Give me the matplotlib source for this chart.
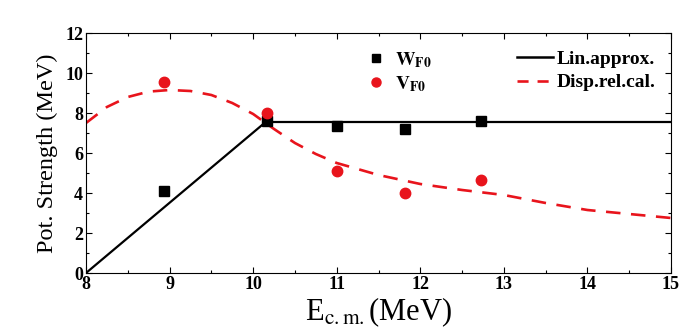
import matplotlib
matplotlib.use("Agg")
import matplotlib.pyplot as plt
from matplotlib.lines import Line2D
from matplotlib.ticker import MultipleLocator

E_exp = [8.93, 10.17, 11.0, 11.82, 12.73]
W_F0 = [4.1, 7.6, 7.35, 7.2, 7.6]
V_F0 = [9.55, 8.0, 5.1, 4.0, 4.65]

lin_E = [8.0, 10.15, 15.0]
lin_W = [0.0, 7.55, 7.55]

disp_E = [8.0, 8.25, 8.5, 8.75, 9.0, 9.25, 9.5, 9.75, 10.0, 10.25, 10.5, 10.75, 11.0,
          11.5, 12.0, 12.5, 13.0, 13.5, 14.0, 14.5, 15.0]
disp_V = [7.5, 8.3, 8.8, 9.07, 9.15, 9.1, 8.9, 8.5, 7.95, 7.2, 6.5, 5.95, 5.5,
          4.9, 4.45, 4.15, 3.9, 3.5, 3.15, 2.95, 2.75]

plt.rcParams['font.family'] = ['Liberation Serif', 'DejaVu Serif']
plt.rcParams['mathtext.fontset'] = 'stix'

RED = '#e8141c'
fig = plt.figure(figsize=(6.95, 3.35), dpi=100)
ax = fig.add_axes([86/695, 1-273/335, (671-86)/695, (273-33)/335])

ax.plot(lin_E, lin_W, color='black', lw=1.6)
ax.plot(disp_E, disp_V, color=RED, lw=1.9, dashes=(5.5, 4.0))
ax.plot(E_exp, W_F0, 's', color='black', ms=6.8)
ax.plot(E_exp, V_F0, 'o', color=RED, ms=7.5)

ax.set_xlim(8, 15)
ax.set_ylim(0, 12)
ax.xaxis.set_major_locator(MultipleLocator(1))
ax.xaxis.set_minor_locator(MultipleLocator(0.5))
ax.yaxis.set_major_locator(MultipleLocator(2))
ax.yaxis.set_minor_locator(MultipleLocator(1))
ax.tick_params(which='both', direction='in', top=True, right=True, width=0.8)
ax.tick_params(which='major', length=4, labelsize=13, pad=2)
ax.tick_params(which='minor', length=2.5)
for lab in ax.get_xticklabels() + ax.get_yticklabels():
    lab.set_fontweight('bold')
for s in ax.spines.values():
    s.set_linewidth(0.8)

ax.set_ylabel('Pot. Strength (MeV)', fontsize=17.5, labelpad=5)
ax.set_xlabel(r'E$_{\mathrm{c.m.}}$(MeV)', fontsize=22, labelpad=2)

h1 = [Line2D([], [], marker='s', color='black', ls='none', ms=5.5),
      Line2D([], [], marker='o', color=RED, ls='none', ms=6.5)]
leg1 = ax.legend(h1, [r'$\mathbf{W}_{\mathbf{F0}}$', r'$\mathbf{V}_{\mathbf{F0}}$'],
                 loc='upper left', bbox_to_anchor=(0.479, 0.928), frameon=False,
                 fontsize=14, handlelength=1.0, handletextpad=0.5,
                 labelspacing=0.2, borderpad=0, borderaxespad=0)
ax.add_artist(leg1)
h2 = [Line2D([], [], color='black', lw=1.8),
      Line2D([], [], color=RED, lw=1.9, dashes=(4.2, 3.4))]
ax.legend(h2, ['Lin.approx.', 'Disp.rel.cal.'], loc='upper left',
          bbox_to_anchor=(0.737, 0.928), frameon=False,
          prop={'weight': 'bold', 'size': 14}, handlelength=1.85,
          handletextpad=0.2, labelspacing=0.3, borderpad=0, borderaxespad=0)

fig.savefig('out.png', dpi=100)
